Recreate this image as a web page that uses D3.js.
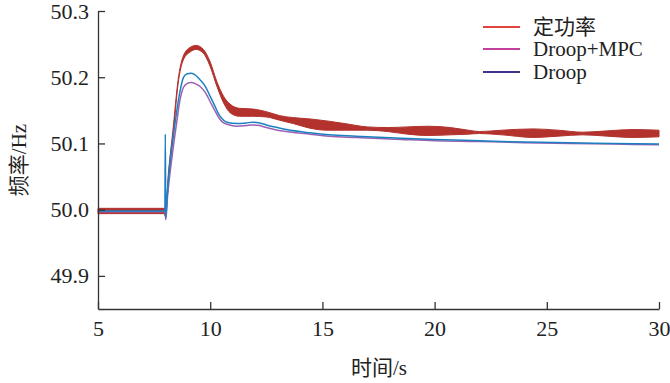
<!DOCTYPE html>
<html><head><meta charset="utf-8">
<script src="https://cdn.jsdelivr.net/npm/d3@7"></script>
<style>
body{margin:0;background:#fff}svg{display:block}
text{font-family:"Liberation Serif","Times New Roman","DejaVu Serif","Noto Sans CJK SC",serif;fill:#222}
</style>
</head><body>
<svg id="c" width="670" height="383"></svg>
<script>
// ---- data ----
const xTicks = [5, 10, 15, 20, 25, 30];
const yTicks = [49.9, 50.0, 50.1, 50.2, 50.3];
const seriesNames = ["定功率", "Droop+MPC", "Droop"];

// 定功率 (oscillating band: upper & lower envelope)
const redT    = [5, 7.95, 8.0, 8.15, 8.34, 8.57, 8.8, 9.1, 9.37, 9.7, 10.0, 10.3, 10.6, 10.9, 11.3, 11.9, 12.5, 13.1, 13.7, 14.45, 15.2, 16, 17, 17.9, 18.8, 19.7, 20.7, 21.5, 22, 23, 24.4, 25.5, 26.6, 27.7, 28.8, 30];
const redHigh = [50.002, 50.002, 50.0, 50.06, 50.12, 50.196, 50.232, 50.245, 50.248, 50.242, 50.223, 50.193, 50.171, 50.159, 50.153, 50.152, 50.148, 50.142, 50.139, 50.137, 50.134, 50.13, 50.125, 50.124, 50.125, 50.126, 50.124, 50.12, 50.118, 50.12, 50.122, 50.12, 50.117, 50.119, 50.121, 50.12];
const redLow  = [49.994, 49.994, 49.99, 50.045, 50.108, 50.19, 50.226, 50.238, 50.242, 50.236, 50.216, 50.186, 50.161, 50.146, 50.141, 50.141, 50.14, 50.135, 50.13, 50.123, 50.12, 50.12, 50.12, 50.118, 50.114, 50.112, 50.113, 50.114, 50.115, 50.113, 50.109, 50.111, 50.113, 50.111, 50.109, 50.11];

// Droop (blue in plot)
const blueT = [5, 7.98, 8.0, 8.02, 8.08, 8.2, 8.35, 8.5, 8.65, 8.8, 8.95, 9.15, 9.35, 9.55, 9.8, 10.0, 10.2, 10.4, 10.6, 10.75, 11.2, 11.6, 11.9, 12.2, 12.5, 13.0, 13.4, 14.45, 15.3, 16.5, 18.5, 20, 22, 24, 26, 28, 30];
const blueV = [49.998, 49.998, 50.114, 49.988, 50.02, 50.07, 50.11, 50.147, 50.178, 50.199, 50.205, 50.206, 50.203, 50.196, 50.185, 50.171, 50.157, 50.143, 50.135, 50.132, 50.130, 50.131, 50.132, 50.131, 50.128, 50.124, 50.121, 50.116, 50.113, 50.111, 50.108, 50.106, 50.104, 50.102, 50.101, 50.1, 50.099];

// Droop+MPC (purple in plot)
const purpT = [5, 7.98, 8.01, 8.02, 8.1, 8.3, 8.5, 8.65, 8.8, 8.95, 9.15, 9.35, 9.55, 9.8, 10.0, 10.2, 10.4, 10.6, 10.75, 11.2, 11.6, 11.9, 12.2, 12.5, 13.0, 13.4, 14.45, 15.3, 16.5, 18.5, 20, 22, 24, 26, 28, 30];
const purpV = [49.997, 49.997, 49.99, 49.985, 50.02, 50.08, 50.13, 50.165, 50.184, 50.19, 50.192, 50.19, 50.186, 50.176, 50.163, 50.15, 50.138, 50.131, 50.129, 50.126, 50.127, 50.128, 50.127, 50.124, 50.12, 50.118, 50.114, 50.111, 50.109, 50.106, 50.104, 50.103, 50.101, 50.1, 50.099, 50.098];

// ---- drawing ----
const svg = d3.select("#c");
const x = d3.scaleLinear().domain([5, 30]).range([98, 659]);
const y = d3.scaleLinear().domain([49.85, 50.3]).range([309, 11]);

const redData = redT.map((t, i) => ({t, hi: redHigh[i], lo: redLow[i]}));
const blueData = blueT.map((t, i) => ({t, v: blueV[i]}));
const purpData = purpT.map((t, i) => ({t, v: purpV[i]}));

svg.append("path").datum(redData)
  .attr("d", d3.area().x(d => x(d.t)).y0(d => y(d.lo)).y1(d => y(d.hi)).curve(d3.curveMonotoneX))
  .attr("fill", "#b3322d").attr("stroke", "#b3322d").attr("stroke-width", 1);

const line = d3.line().x(d => x(d.t)).y(d => y(d.v)).curve(d3.curveMonotoneX);
svg.append("path").datum(purpData).attr("d", line)
  .attr("fill", "none").attr("stroke", "#9a62b2").attr("stroke-width", 1.5);
svg.append("path").datum(blueData).attr("d", line)
  .attr("fill", "none").attr("stroke", "#1b80c2").attr("stroke-width", 1.5);

// axes
const gx = svg.append("g").attr("transform", "translate(0,309)")
  .call(d3.axisBottom(x).tickValues(xTicks).tickSizeInner(-7).tickSizeOuter(0).tickPadding(11).tickFormat(d3.format("d")));
const gy = svg.append("g").attr("transform", "translate(98,0)")
  .call(d3.axisLeft(y).tickValues(yTicks).tickSizeInner(-7).tickSizeOuter(0).tickPadding(9).tickFormat(d3.format(".1f")));
[gx, gy].forEach(g => {
  g.attr("font-family", null).attr("font-size", null);
  g.select(".domain").attr("stroke", "#333").attr("stroke-width", 1.3);
  g.selectAll(".tick line").attr("stroke", "#333").attr("stroke-width", 1.3);
  g.selectAll("text").style("font-size", "22px").attr("fill", "#222");
});

// axis labels
svg.append("text").attr("x", 379).attr("y", 375).attr("text-anchor", "middle")
  .style("font-size", "21px").text("时间/s");
svg.append("text").attr("transform", "translate(26,160) rotate(-90)").attr("text-anchor", "middle")
  .style("font-size", "21px").text("频率/Hz");

// legend
const legColors = ["#e0433c", "#c2409c", "#43308c"];
const legY = [27, 49, 72];
seriesNames.forEach((n, i) => {
  svg.append("line").attr("x1", 483).attr("x2", 520).attr("y1", legY[i]).attr("y2", legY[i])
    .attr("stroke", legColors[i]).attr("stroke-width", 2);
  svg.append("text").attr("x", 533).attr("y", legY[i] + 7)
    .style("font-size", "21px").text(n);
});
</script>
</body></html>
